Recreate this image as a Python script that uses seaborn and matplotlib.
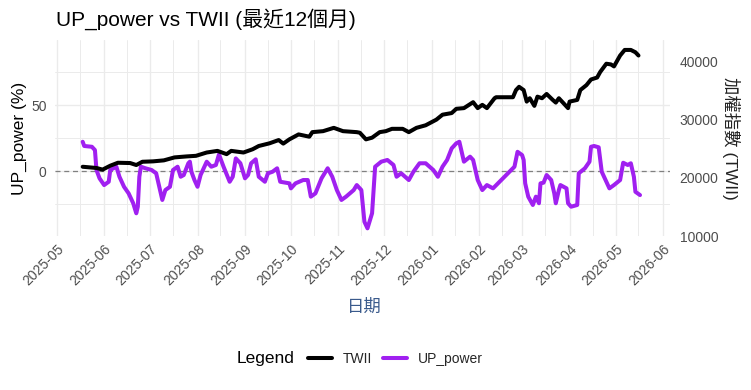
import pandas as pd
import numpy as np
import matplotlib
matplotlib.use("Agg")
import matplotlib.pyplot as plt
import matplotlib.dates as mdates
from matplotlib.lines import Line2D
import seaborn as sns

# 加權指數
twii_dates = ["2025-05-18", "2025-05-27", "2025-05-31", "2025-06-05", "2025-06-10", "2025-06-18",
              "2025-06-22", "2025-06-26", "2025-07-03", "2025-07-10", "2025-07-17", "2025-07-25",
              "2025-07-31", "2025-08-07", "2025-08-14", "2025-08-20", "2025-08-23", "2025-08-31",
              "2025-09-06", "2025-09-10", "2025-09-17", "2025-09-23", "2025-09-26", "2025-09-30",
              "2025-10-06", "2025-10-13", "2025-10-15", "2025-10-22", "2025-10-29", "2025-11-04",
              "2025-11-13", "2025-11-15", "2025-11-19", "2025-11-23", "2025-11-28", "2025-12-02",
              "2025-12-06", "2025-12-13", "2025-12-17", "2025-12-22", "2025-12-28", "2026-01-04",
              "2026-01-08", "2026-01-14", "2026-01-17", "2026-01-22", "2026-01-28", "2026-01-31",
              "2026-02-03", "2026-02-06", "2026-02-11", "2026-02-12", "2026-02-23", "2026-02-25",
              "2026-02-27", "2026-03-02", "2026-03-04", "2026-03-06", "2026-03-09", "2026-03-11",
              "2026-03-14", "2026-03-17", "2026-03-21", "2026-03-23", "2026-03-25", "2026-03-28",
              "2026-03-31", "2026-04-01", "2026-04-06", "2026-04-08", "2026-04-12", "2026-04-15",
              "2026-04-19", "2026-04-21", "2026-04-25", "2026-04-28", "2026-04-30", "2026-05-04",
              "2026-05-07", "2026-05-11", "2026-05-14", "2026-05-16"]
twii_values = [21900, 21690, 21410, 22080, 22590, 22540,
               22200, 22760, 22830, 23000, 23510, 23680,
               23780, 24350, 24630, 24070, 24630, 24350,
               24910, 25470, 25930, 26490, 25880, 26610,
               27460, 27070, 27850, 28020, 28590, 28020,
               27850, 27750, 26610, 26900, 27850, 28020,
               28420, 28420, 27850, 28590, 29030, 30000,
               30850, 31130, 31860, 31980, 33000, 31980,
               32540, 31980, 33680, 33850, 33850, 35080,
               35640, 35080, 33100, 33680, 32370, 33950,
               33680, 34410, 33390, 32930, 33680, 32830,
               31980, 33100, 33390, 35080, 35930, 36900,
               37240, 38190, 39610, 39490, 39150, 41020,
               41980, 41980, 41580, 41020]

# UP_power (%)
up_dates = ["2025-05-18", "2025-05-19", "2025-05-24", "2025-05-26", "2025-05-27", "2025-05-29",
            "2025-06-01", "2025-06-04", "2025-06-05", "2025-06-09", "2025-06-11", "2025-06-14",
            "2025-06-17", "2025-06-20", "2025-06-22", "2025-06-23", "2025-06-24", "2025-06-25",
            "2025-06-28", "2025-07-02", "2025-07-05", "2025-07-07", "2025-07-09", "2025-07-11",
            "2025-07-14", "2025-07-16", "2025-07-19", "2025-07-21", "2025-07-23", "2025-07-26",
            "2025-07-27", "2025-07-28", "2025-07-30", "2025-08-01", "2025-08-03", "2025-08-07",
            "2025-08-10", "2025-08-13", "2025-08-15", "2025-08-18", "2025-08-22", "2025-08-24",
            "2025-08-26", "2025-08-29", "2025-09-01", "2025-09-03", "2025-09-05", "2025-09-08",
            "2025-09-10", "2025-09-14", "2025-09-16", "2025-09-19", "2025-09-22", "2025-09-24",
            "2025-09-30", "2025-10-01", "2025-10-04", "2025-10-09", "2025-10-12", "2025-10-14",
            "2025-10-17", "2025-10-21", "2025-10-25", "2025-10-28", "2025-10-31", "2025-11-03",
            "2025-11-06", "2025-11-11", "2025-11-13", "2025-11-16", "2025-11-18", "2025-11-20",
            "2025-11-23", "2025-11-25", "2025-11-29", "2025-12-03", "2025-12-07", "2025-12-09",
            "2025-12-12", "2025-12-17", "2025-12-20", "2025-12-24", "2025-12-28", "2026-01-02",
            "2026-01-05", "2026-01-08", "2026-01-11", "2026-01-14", "2026-01-17", "2026-01-19",
            "2026-01-22", "2026-01-26", "2026-01-28", "2026-01-31", "2026-02-03", "2026-02-06",
            "2026-02-10", "2026-02-24", "2026-02-26", "2026-03-01", "2026-03-02", "2026-03-03",
            "2026-03-05", "2026-03-08", "2026-03-10", "2026-03-12", "2026-03-13", "2026-03-15",
            "2026-03-17", "2026-03-20", "2026-03-22", "2026-03-23", "2026-03-25", "2026-03-26",
            "2026-03-30", "2026-03-31", "2026-04-02", "2026-04-06", "2026-04-07", "2026-04-11",
            "2026-04-14", "2026-04-15", "2026-04-17", "2026-04-20", "2026-04-22", "2026-04-27",
            "2026-04-30", "2026-05-04", "2026-05-06", "2026-05-09", "2026-05-11", "2026-05-13",
            "2026-05-14", "2026-05-17"]
up_values = [22.4, 19.2, 18.6, 16.1, 1.0, -5.3,
             -10.4, -7.9, 1.0, 3.5, -4.1, -11.7,
             -16.7, -24.2, -31.8, -26.8, -4.1, 3.5,
             2.3, 1.0, -1.5, -11.7, -21.7, -14.2,
             -11.7, 1.0, 3.5, -4.1, -2.8, 6.1,
             7.3, -0.3, -6.6, -11.7, -2.8, 7.3,
             3.5, 4.8, 12.8, 3.5, -7.9, -4.1,
             9.8, 6.1, -5.3, -2.8, 6.1, 9.1,
             -4.1, -7.9, -1.5, -0.3, 2.3, -7.9,
             -9.1, -12.9, -9.1, -6.6, -6.6, -19.2,
             -16.7, -5.3, 2.3, -4.1, -14.2, -21.7,
             -19.2, -14.2, -10.4, -14.2, -38.2, -43.2,
             -31.8, 3.5, 7.3, 8.6, 4.8, -4.1,
             -1.5, -6.6, -0.3, 6.1, 6.1, 1.0,
             -4.1, 3.5, 8.6, 17.4, 21.2, 22.4,
             7.3, 11.1, 8.6, -6.6, -14.2, -10.4,
             -12.9, 3.5, 14.8, 12.3, 8.6, -9.1,
             -19.2, -25.5, -19.2, -24.2, -9.1, -8.6,
             -2.8, -6.6, -16.7, -24.2, -14.2, -10.4,
             -12.9, -24.2, -26.8, -25.5, -1.5, 2.3,
             7.3, 18.6, 19.2, 18.2, -0.3, -12.9,
             -10.4, -6.6, 6.5, 4.8, 6.1, -4.1,
             -15.5, -18.0]

left_ticks = [0, 50]
right_ticks = [10000, 20000, 30000, 40000]

sns.set_theme(style="white")
plt.rcParams['font.family'] = ['Liberation Sans', 'Noto Sans CJK TC']

up = pd.DataFrame({"date": pd.to_datetime(up_dates), "UP_power": up_values})
twii = pd.DataFrame({"date": pd.to_datetime(twii_dates), "TWII": twii_values})

fig = plt.figure(figsize=(7.51, 3.90), dpi=100)
ax = fig.add_axes([55 / 751, 154 / 390, 615 / 751, 196 / 390])
ax2 = ax.twinx()

ax.axhline(0, color="#808080", lw=0.9, ls=(0, (4, 3)), zorder=1)
sns.lineplot(data=up, x="date", y="UP_power", ax=ax, color="#A020F0", lw=2.9, zorder=3)
sns.lineplot(data=twii, x="date", y="TWII", ax=ax2, color="black", lw=2.9)

# secondary scale: TWII = 21300 + 225 * UP_power
ax.set_ylim(-49, 99.5)
ax2.set_ylim(21300 - 225 * 49, 21300 + 225 * 99.5)
ax.set_xlim(pd.Timestamp("2025-04-29 22:00"), pd.Timestamp("2026-06-05 14:00"))

ax.set_yticks(left_ticks)
ax.set_yticks([-25, 25, 75], minor=True)
ax2.set_yticks(right_ticks)
ax.xaxis.set_major_locator(mdates.MonthLocator())
ax.xaxis.set_minor_locator(mdates.DayLocator(bymonthday=16))
ax.xaxis.set_major_formatter(mdates.DateFormatter("%Y-%m"))

ax.grid(which="major", color="#EBEBEB", lw=1.0)
ax.grid(which="minor", color="#EBEBEB", lw=0.7)
ax2.grid(False)
for a in (ax, ax2):
    for s in a.spines.values():
        s.set_visible(False)
    a.set_xlabel("")
    a.set_ylabel("")

ax.tick_params(axis="both", which="both", length=0, labelsize=10, labelcolor="#4D4D4D")
ax.tick_params(axis="y", pad=6)
ax.tick_params(axis="x", pad=4)
ax2.tick_params(axis="y", length=0, labelsize=10, labelcolor="#4D4D4D", pad=7)
for lab in ax.get_xticklabels():
    lab.set_rotation(45)
    lab.set_ha("right")
    lab.set_rotation_mode("anchor")

fig.text(56 / 751, 1 - 19 / 390, "UP_power vs TWII (最近12個月)", ha="left", va="center",
         fontsize=15, color="black")
fig.text(19 / 751, 1 - 138 / 390, "UP_power (%)", rotation=90, ha="center", va="center",
         fontsize=12.5, color="black")
fig.text(731 / 751, 1 - 138 / 390, "加權指數 (TWII)", rotation=270, ha="center", va="center",
         fontsize=12.5, color="#222222")
fig.text(364 / 751, 1 - 307 / 390, "日期", ha="center", va="center", fontsize=12.5, color="#3A5A8C")

fig.text(237 / 751, 1 - 359 / 390, "Legend", ha="left", va="center", fontsize=12.5, color="black")
handles = [Line2D([], [], color="black", lw=2.9), Line2D([], [], color="#A020F0", lw=2.9)]
fig.legend(handles, ["TWII", "UP_power"], loc="center left", bbox_to_anchor=(308 / 751, 1 - 359 / 390),
           ncol=2, frameon=False, fontsize=10, handlelength=1.7, handletextpad=0.8,
           columnspacing=0.8, borderpad=0, borderaxespad=0)

fig.savefig("out.png", dpi=100)
